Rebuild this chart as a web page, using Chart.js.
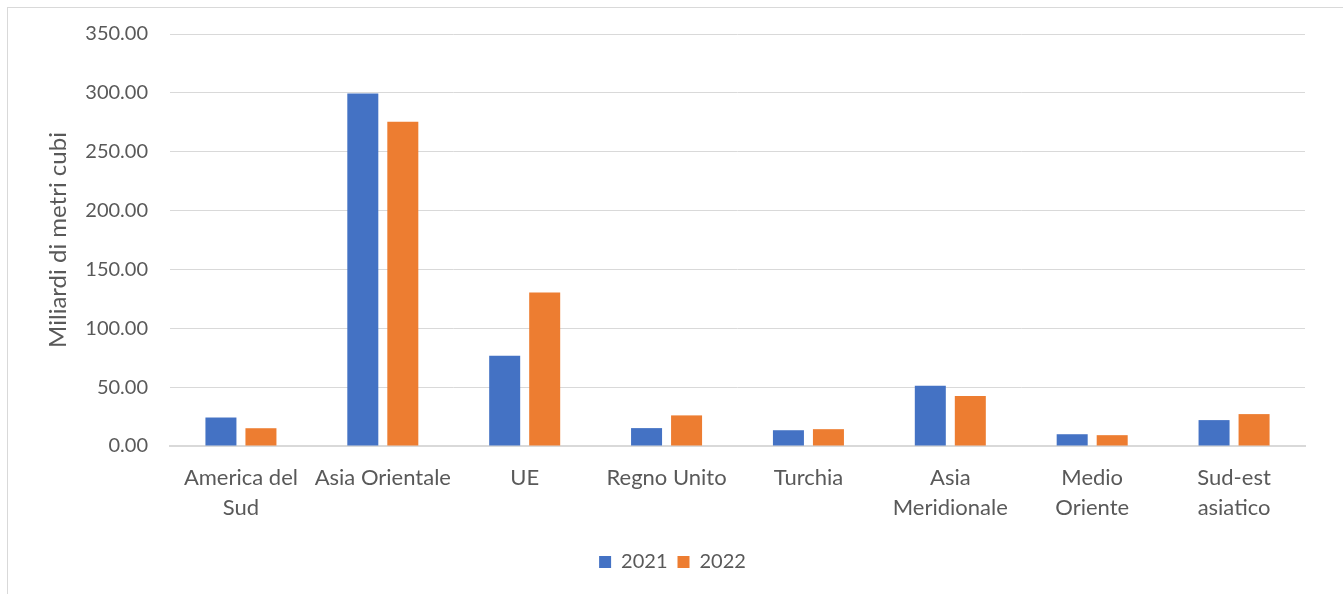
<!DOCTYPE html>
<html>
<head>
<meta charset="utf-8">
<script src="https://cdn.jsdelivr.net/npm/chart.js"></script>
<style>
  html, body { margin: 0; padding: 0; background: #fff; overflow: hidden; }
  #box { position: absolute; left: 7px; top: 7px; width: 1340px; height: 590px; border: 1px solid #d9d9d9; }
  #wrap { position: absolute; left: 0; top: 0; width: 1343px; height: 594px; }
</style>
</head>
<body>
<div id="box"></div>
<div id="wrap"><canvas id="myChart"></canvas></div>
<script>
var regions = [["America del", "Sud"], "Asia Orientale", "UE", "Regno Unito", "Turchia",
  ["Asia", "Meridionale"], ["Medio", "Oriente"], ["Sud-est", "asiatico"]];
var values2021 = [24.2, 299.5, 76.6, 15.2, 13.4, 51.1, 10.0, 22.0];
var values2022 = [15.1, 275.5, 130.4, 26.0, 14.3, 42.5, 9.2, 27.1];

var textColor = "#595959";
var fontFamily = "Lato, 'Open Sans', sans-serif";

new Chart("myChart", {
  type: "bar",
  data: {
    labels: regions,
    datasets: [{
      label: "2021",
      backgroundColor: "#4472C4",
      data: values2021
    }, {
      label: "2022",
      backgroundColor: "#ED7D31",
      data: values2022
    }]
  },
  options: {
    responsive: true,
    maintainAspectRatio: false,
    animation: false,
    layout: {padding: {left: 40, right: 38, top: 32, bottom: 12}},
    datasets: {bar: {categoryPercentage: 0.564, barPercentage: 0.775}},
    plugins: {
      legend: {
        position: "bottom",
        labels: {
          color: textColor,
          font: {family: fontFamily, size: 20},
          usePointStyle: true,
          pointStyle: "rect",
          boxWidth: 12,
          boxHeight: 12,
          padding: 10
        }
      },
      tooltip: {enabled: false}
    },
    scales: {
      x: {
        grid: {display: false},
        border: {color: "#d9d9d9", width: 2},
        ticks: {
          color: textColor,
          font: {family: fontFamily, size: 22, lineHeight: "30px"},
          maxRotation: 0,
          autoSkip: false,
          padding: 9
        },
        afterFit: function (scale) { scale.height = 96; }
      },
      y: {
        min: 0,
        max: 350,
        grid: {color: "#d9d9d9", drawTicks: false},
        border: {display: false},
        ticks: {
          stepSize: 50,
          color: textColor,
          font: {family: fontFamily, size: 20},
          padding: 22,
          callback: function (v) { return v.toFixed(2); }
        },
        title: {
          display: true,
          text: "Miliardi di metri cubi",
          color: textColor,
          font: {family: fontFamily, size: 24}
        },
        afterFit: function (scale) { scale.width = 130; }
      }
    }
  }
});
</script>
</body>
</html>
